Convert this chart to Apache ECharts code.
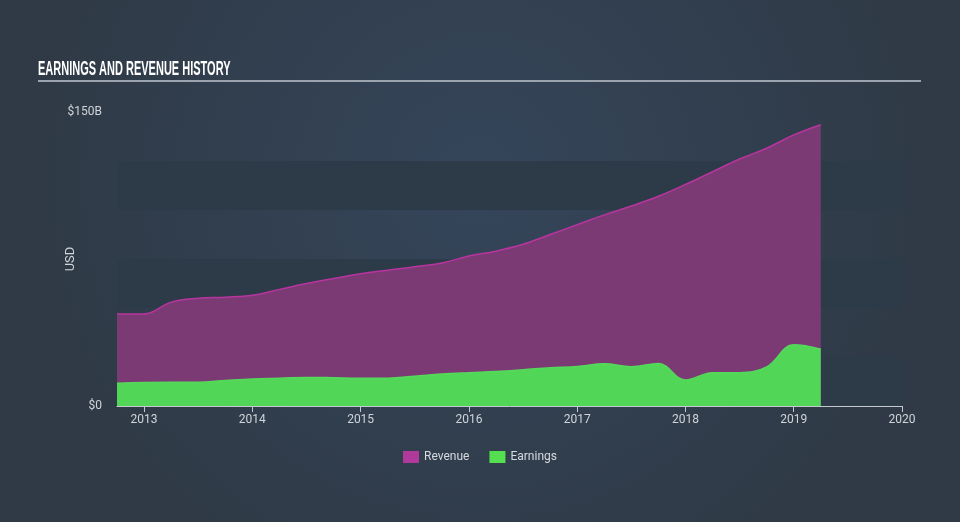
<!DOCTYPE html>
<html>
<head>
<meta charset="utf-8">
<title>Earnings and Revenue History</title>
<script src="https://cdn.jsdelivr.net/npm/echarts@6/dist/echarts.min.js"></script>
<style>
html, body { margin: 0; padding: 0; background: #323e4c; }
#chart { width: 960px; height: 522px; }
</style>
</head>
<body>
<div id="chart"></div>
<script>
// quarter positions as decimal years, 2012 Q3 .. 2020
var quarters = [];
for (var q = 0; q < 30; q++) quarters.push(2012.75 + q * 0.25);

// values in $B
var revenue = [47, 47, 53, 55, 55.5, 56.5, 59.5, 62.5, 65, 67.5, 69.3, 71, 73, 76.5,
  79, 82.5, 87.5, 92.5, 97.5, 102, 107, 113, 119.5, 126, 131.5, 138.3, 143.5];
var earnings = [11.6, 12, 12.1, 12.1, 13, 13.8, 14.2, 14.6, 14.4, 14.1, 14.2, 15.2, 16.3, 17,
  17.6, 18.5, 19.5, 20.2, 21.5, 20, 21.7, 13.3, 17, 17, 20, 31.2, 29];

var yTicks = { 0: '$0', 150: '$150B' };

var chart = echarts.init(document.getElementById('chart'));

var isYear = function (idx, val) { return Number(val) % 1 === 0; };

var option = {
  backgroundColor: {
    type: 'radial', x: 0.5, y: 0.35, r: 0.85,
    colorStops: [{ offset: 0, color: '#35455a' }, { offset: 1, color: '#2f3a46' }]
  },
  animation: false,
  graphic: [
    {
      type: 'text',
      left: 38, top: 59,
      scaleX: 0.55,
      originX: 0,
      style: {
        text: 'EARNINGS AND REVENUE HISTORY',
        fill: '#ffffff',
        font: 'bold 20px "Liberation Sans", sans-serif'
      }
    },
    {
      type: 'line',
      shape: { x1: 38, y1: 81, x2: 921, y2: 81 },
      style: { stroke: '#9ba4ae', lineWidth: 2 }
    }
  ],
  legend: {
    bottom: 54, left: 'center',
    itemWidth: 16, itemHeight: 12, itemGap: 20,
    icon: 'rect',
    textStyle: { color: '#d6dade', fontSize: 12, fontFamily: 'Roboto' },
    data: ['Revenue', 'Earnings']
  },
  grid: { left: 117, right: 58, top: 112, bottom: 116 },
  xAxis: {
    type: 'category',
    boundaryGap: false,
    data: quarters,
    axisLine: { lineStyle: { color: '#c3c9cf', width: 1 } },
    axisTick: { interval: isYear, length: 6, lineStyle: { color: '#c3c9cf' } },
    axisLabel: {
      interval: isYear, color: '#d0d5da', fontSize: 12, fontFamily: 'Roboto', margin: 8,
      formatter: function (v) { return String(Math.round(v)); }
    },
    splitLine: { show: false }
  },
  yAxis: {
    type: 'value',
    min: 0, max: 150, interval: 25,
    name: 'USD',
    nameLocation: 'middle',
    nameGap: 40,
    nameMoveOverlap: false,
    nameTextStyle: { color: '#d0d5da', fontSize: 13, fontFamily: 'Roboto' },
    axisLine: { show: false },
    axisTick: { show: false },
    splitLine: { show: false },
    splitArea: { show: true, areaStyle: { color: ['#2d3a48', 'rgba(0,0,0,0)'] } },
    axisLabel: {
      color: '#d0d5da', fontSize: 12, fontFamily: 'Roboto', margin: 15,
      formatter: function (v) { return yTicks[v] || ''; }
    }
  },
  series: [
    {
      name: 'Revenue',
      type: 'line',
      data: revenue,
      smooth: 0.4,
      showSymbol: false,
      lineStyle: { color: '#b8359f', width: 1.5 },
      itemStyle: { color: '#b03a9c' },
      areaStyle: { color: '#7b3a74', opacity: 1 },
      z: 2
    },
    {
      name: 'Earnings',
      type: 'line',
      data: earnings,
      smooth: 0.4,
      showSymbol: false,
      lineStyle: { color: '#55d95a', width: 1.5 },
      itemStyle: { color: '#55df50' },
      areaStyle: { color: '#52d657', opacity: 1 },
      z: 3
    }
  ]
};

chart.setOption(option);
</script>
</body>
</html>
